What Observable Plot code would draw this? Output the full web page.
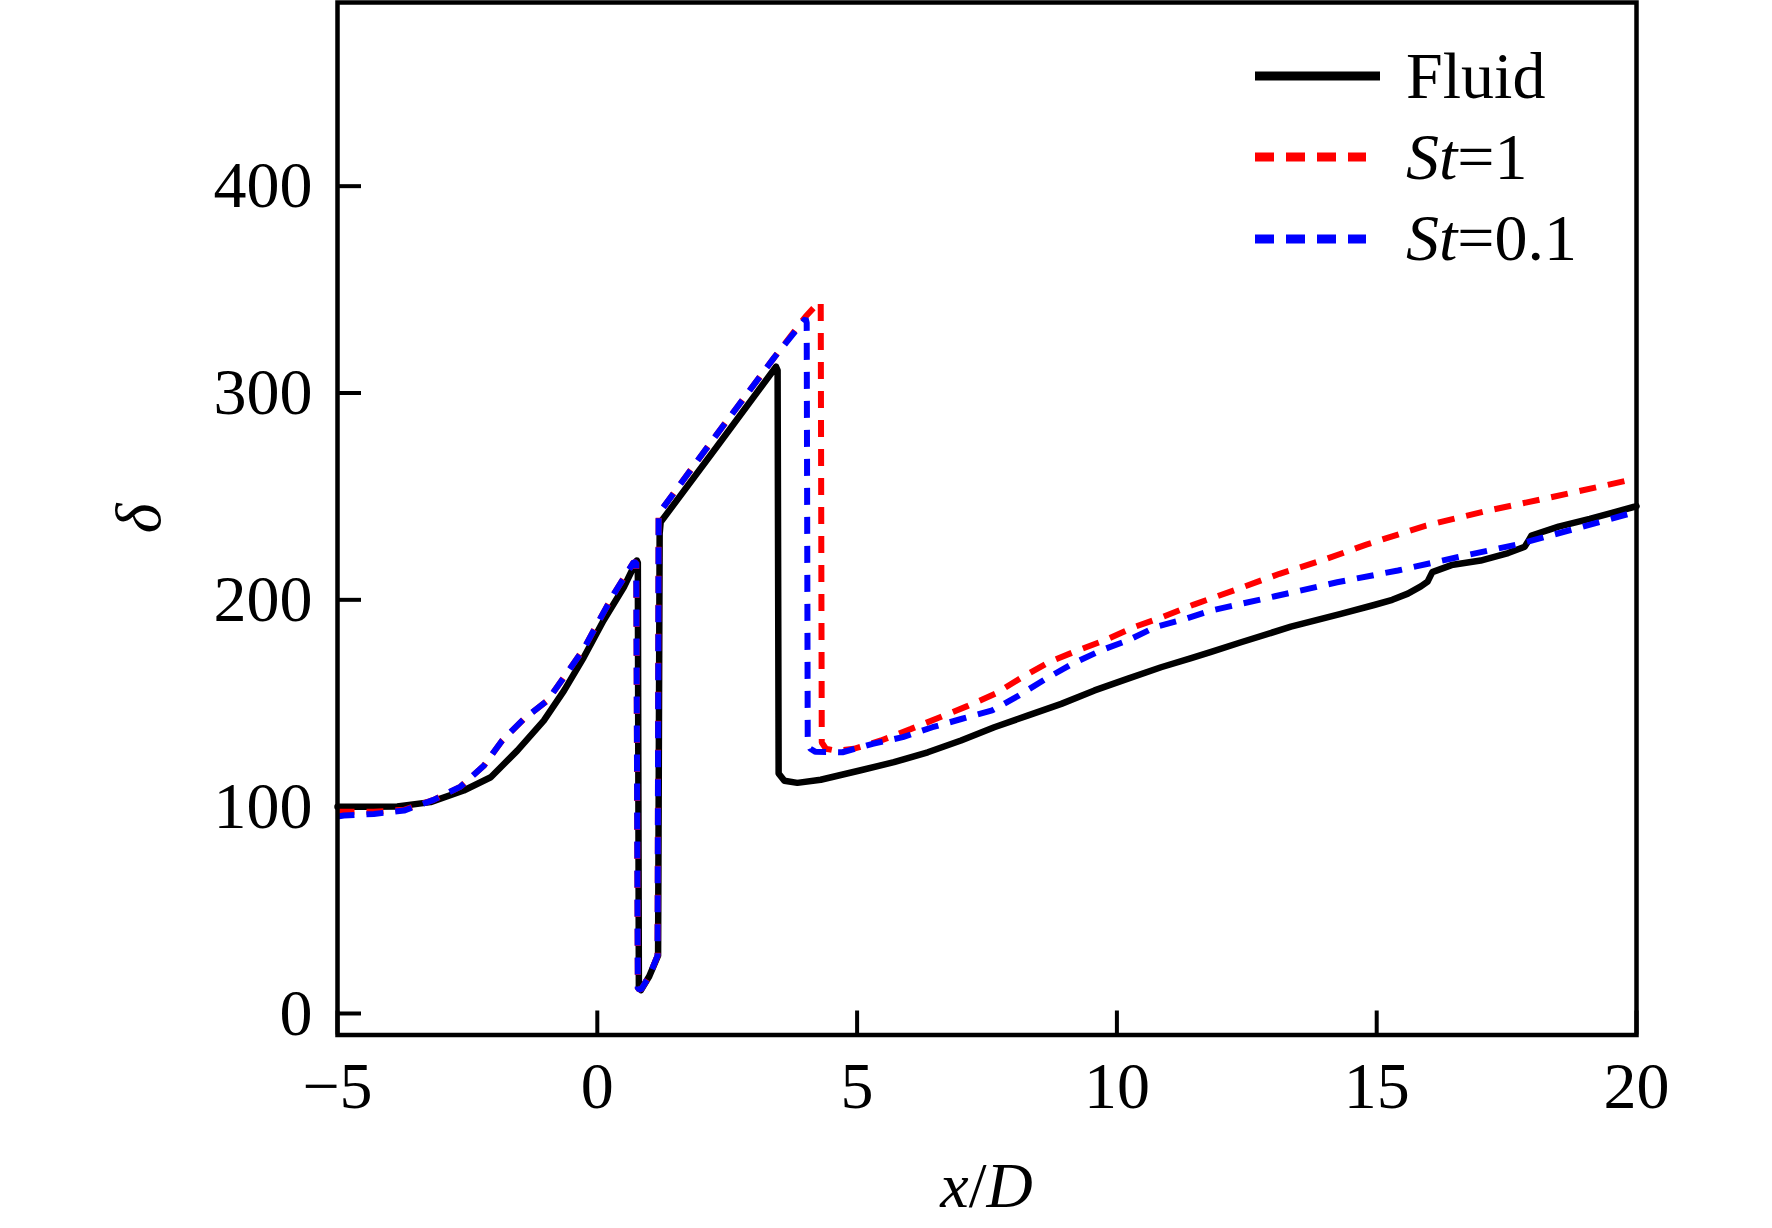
<!DOCTYPE html>
<html>
<head>
<meta charset="utf-8">
<script src="https://cdn.jsdelivr.net/npm/d3@7"></script>
<script src="https://cdn.jsdelivr.net/npm/@observablehq/plot@0.6"></script>
<style>
  html, body { margin: 0; padding: 0; background: #fff; }
  svg { display: block; }
</style>
</head>
<body>
<div id="chart"></div>
<script>
// ---- data ----
const xTicks = [-5, 0, 5, 10, 15, 20];
const yTicks = [0, 100, 200, 300, 400];

const fluidX = [-5.0, -4.5, -3.85, -3.21, -2.57, -2.05, -1.54, -1.03, -0.64, -0.26, 0.12, 0.51, 0.76, 0.78,
  0.80, 0.84, 1.0, 1.17, 1.20, 1.22, 2.3, 3.44, 3.47, 3.49, 3.6, 3.85, 4.3, 5.07, 5.71, 6.36, 7.0, 7.64,
  8.28, 8.93, 9.57, 10.2, 10.85, 11.43, 11.8, 12.39, 13.35, 14.31, 14.95, 15.3, 15.6, 15.85, 15.98, 16.07,
  16.44, 17.0, 17.53, 17.85, 17.93, 17.98, 18.5, 19.1, 19.96, 20.0];
const fluidY = [100, 100, 100.1, 102.2, 107.8, 114.2, 127.1, 141.6, 156.1, 172.2, 190, 206.1, 219, 218,
  13, 11.3, 18, 28, 232, 237.6, 274, 312.7, 311, 116, 112.5, 111.5, 113, 117.6, 121.5, 126.3, 132, 138.4,
  144, 149.7, 156.2, 161.8, 167.4, 171.8, 174.7, 179.5, 187, 193.2, 197.5, 200, 203, 206.5, 208.8, 213.4,
  216.8, 219, 222.6, 225.7, 229, 231.1, 235.4, 239.1, 245, 245.3];

const st1X = [-5.0, -4.88, -4.30, -3.72, -3.15, -2.63, -2.18, -1.83, -1.41, -0.96, -0.64, -0.26, 0.0, 0.32,
  0.64, 0.70, 0.75, 0.78, 0.84, 1.0, 1.16, 1.18, 1.22, 2.3, 3.4, 4.01, 4.27, 4.30, 4.32, 4.4, 4.6, 4.94,
  5.46, 6.04, 6.57, 7.12, 7.66, 8.18, 8.69, 9.24, 9.78, 10.33, 10.9, 11.48, 12.3, 13.13, 14.0, 14.80,
  15.95, 17.08, 18.27, 19.97, 20.0];
const st1Y = [97.5, 97.5, 97.5, 98.5, 103.3, 109.7, 119.9, 132, 142.5, 151.3, 162.6, 176.3, 188.4, 202.9,
  215.8, 218.2, 218, 12, 11.5, 18, 28, 240, 243, 280, 317, 337, 344, 344, 131, 128, 127, 128,
  132, 137.6, 143, 148.6, 154.6, 162.6, 169.8, 175.5, 180.6, 186.8, 191.9, 197.7, 205, 212.6, 219.5, 226.7,
  235.9, 242.8, 249.1, 258.5, 258.7];

const st01X = [-5.0, -4.88, -4.30, -3.72, -3.15, -2.63, -2.18, -1.83, -1.41, -0.96, -0.64, -0.26, 0.0, 0.32,
  0.64, 0.70, 0.75, 0.78, 0.84, 1.0, 1.16, 1.18, 1.22, 2.3, 3.4, 4.01, 4.03, 4.05, 4.1, 4.2, 4.72, 5.30,
  5.88, 6.45, 7.02, 7.60, 8.11, 8.63, 9.14, 9.69, 10.23, 10.74, 11.32, 11.81, 13.02, 14.24, 15.41, 16.55,
  17.75, 18.88, 19.97, 20.0];
const st01Y = [95.2, 95.7, 96.5, 98.1, 103.3, 109.7, 119.9, 132, 142.5, 151.3, 162.6, 176.3, 188.4, 202.9,
  215.8, 218.2, 218, 12, 11.5, 18, 28, 240, 243, 280, 317, 336, 334, 131, 128, 126.5, 126.3, 130.4,
  133.6, 138.4, 142.5, 146.5, 153.7, 161.8, 169, 175.5, 180.6, 186.8, 190.8, 194.8, 201.6, 208.5, 214.2, 220.6,
  227, 234.8, 242.4, 242.6];

const seriesNames = ["Fluid", "St=1", "St=0.1"];
const seriesColors = ["#000000", "#ff0000", "#0000ff"];

const toRows = (xs, ys) => xs.map((x, i) => ({x, y: ys[i]}));
const fluid = toRows(fluidX, fluidY);
const st1 = toRows(st1X, st1Y);
const st01 = toRows(st01X, st01Y);

// ---- layout ----
const W = 1772, H = 1228;
const mL = 337, mR = 136, mT = 2, mB = 193.5;
const plotW = W - mL - mR, plotH = H - mT - mB;
const tickLen = 24;
const font = "'Liberation Serif', 'Times New Roman', serif";

const chart = Plot.plot({
  width: W,
  height: H,
  marginLeft: mL,
  marginRight: mR,
  marginTop: mT,
  marginBottom: mB,
  style: {fontFamily: font, fontSize: "66px", color: "black", background: "white", overflow: "visible"},
  x: {domain: [-5, 20]},
  y: {domain: [-10.4, 488.8]},
  marks: [
    Plot.axisX({ticks: xTicks, tickSize: 0, tickPadding: 26.6, label: null, fontSize: 66}),
    Plot.axisY({ticks: yTicks, tickSize: 0, tickPadding: 25, label: null, fontSize: 66}),
    Plot.ruleX(xTicks, {x: d => d, insetTop: plotH - tickLen, stroke: "black", strokeWidth: 4}),
    Plot.ruleY(yTicks, {y: d => d, insetRight: plotW - tickLen, stroke: "black", strokeWidth: 4}),
    Plot.line(fluid, {x: "x", y: "y", stroke: seriesColors[0], strokeWidth: 6.5, strokeLinejoin: "round"}),
    Plot.line(st1, {x: "x", y: "y", stroke: seriesColors[1], strokeWidth: 6, strokeDasharray: "17,12", strokeLinecap: "butt", strokeLinejoin: "miter"}),
    Plot.line(st01, {x: "x", y: "y", stroke: seriesColors[2], strokeWidth: 6, strokeDasharray: "17,12", strokeLinecap: "butt", strokeLinejoin: "miter"}),
    Plot.frame({stroke: "black", strokeWidth: 4.5})
  ]
});

document.getElementById("chart").appendChild(chart);

// ---- legend and axis labels ----
const svg = d3.select(chart);
const lg = svg.append("g").attr("font-family", font).attr("font-size", 66)
  .attr("fill", "black").attr("text-anchor", "start");
const legendRows = [
  {name: seriesNames[0], color: seriesColors[0], dash: null, ly: 76, ty: 98, x2: 1380},
  {name: seriesNames[1], color: seriesColors[1], dash: "19,12", ly: 157, ty: 179, x2: 1366},
  {name: seriesNames[2], color: seriesColors[2], dash: "19,12", ly: 239, ty: 260, x2: 1366}
];
legendRows.forEach(r => {
  const l = lg.append("line")
    .attr("x1", 1255).attr("x2", r.x2).attr("y1", r.ly).attr("y2", r.ly)
    .attr("stroke", r.color).attr("stroke-width", 9);
  if (r.dash) l.attr("stroke-dasharray", r.dash);
  const t = lg.append("text").attr("x", 1406).attr("y", r.ty).attr("text-anchor", "start");
  if (r.name.startsWith("St")) {
    t.append("tspan").attr("font-style", "italic").text("St");
    t.append("tspan").text(r.name.slice(2));
  } else {
    t.text(r.name);
  }
});

const xl = svg.append("text")
  .attr("x", mL + plotW / 2).attr("y", 1207)
  .attr("text-anchor", "middle")
  .attr("font-family", font).attr("font-size", 64);
xl.append("tspan").attr("font-style", "italic").text("x");
xl.append("tspan").text("/");
xl.append("tspan").attr("font-style", "italic").text("D");

svg.append("text")
  .attr("transform", `translate(160,${mT + plotH / 2}) rotate(-90)`)
  .attr("text-anchor", "middle")
  .attr("font-family", font).attr("font-size", 64).attr("font-style", "italic")
  .text("δ");
</script>
</body>
</html>
